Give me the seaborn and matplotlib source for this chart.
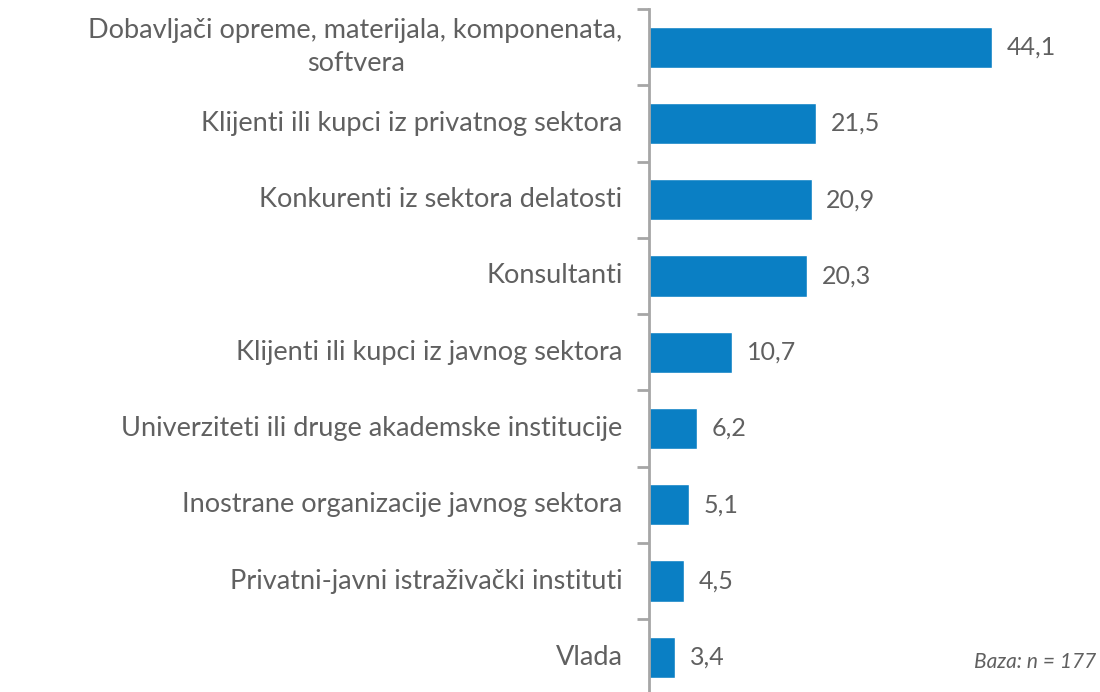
import matplotlib
matplotlib.use("Agg")
import matplotlib.pyplot as plt
import seaborn as sns
import pandas as pd
import numpy as np

categories = [
    "Dobavljači opreme, materijala, komponenata,\nsoftvera",
    "Klijenti ili kupci iz privatnog sektora",
    "Konkurenti iz sektora delatosti",
    "Konsultanti",
    "Klijenti ili kupci iz javnog sektora",
    "Univerziteti ili druge akademske institucije",
    "Inostrane organizacije javnog sektora",
    "Privatni-javni istraživački instituti",
    "Vlada",
]
values = [44.1, 21.5, 20.9, 20.3, 10.7, 6.2, 5.1, 4.5, 3.4]
note = "Baza: n = 177"

df = pd.DataFrame({"kategorija": categories, "vrednost": values})

sns.set_style("white")
plt.rcParams["font.family"] = ["Lato", "DejaVu Sans"]

text_color = "#606060"
bar_color = "#0A7FC4"
spine_color = "#A6A6A6"

fig = plt.figure(figsize=(11, 6.92), dpi=100)
ax = fig.add_axes([0.59, -0.005, 0.41, 0.992])

sns.barplot(data=df, x="vrednost", y="kategorija", color=bar_color,
            width=0.54, saturation=1, ax=ax)

ax.set_xlim(0, 58)
ax.set_ylim(len(categories) - 0.5, -0.5)
ax.set_xlabel("")
ax.set_ylabel("")
ax.set_xticks([])

for s in ["top", "right", "bottom"]:
    ax.spines[s].set_visible(False)
ax.spines["left"].set_color(spine_color)
ax.spines["left"].set_linewidth(2)

# category labels drawn by hand so the two-line one can be centred
ax.set_yticks(range(len(categories)))
ax.set_yticklabels([])
ax.tick_params(axis="y", which="major", left=False, length=0)
ax.set_yticks(np.arange(-0.5, len(categories), 1.0), minor=True)
ax.tick_params(axis="y", which="minor", left=True, length=9, width=2,
               color=spine_color, direction="out")

for i, lab in enumerate(categories):
    ax.annotate(lab, xy=(0, i), xytext=(-19, 0), textcoords="offset points",
                ha="right", va="center", multialignment="center",
                linespacing=1.4, fontsize=19.5, color=text_color,
                annotation_clip=False)

for i, v in enumerate(values):
    ax.text(v + 1.9, i, f"{v:.1f}".replace(".", ","), va="center", ha="left",
            fontsize=18, color=text_color)

fig.text(0.997, 0.043, note, ha="right", va="center", fontsize=15,
         style="italic", color=text_color)

fig.savefig("out.png", dpi=100)
